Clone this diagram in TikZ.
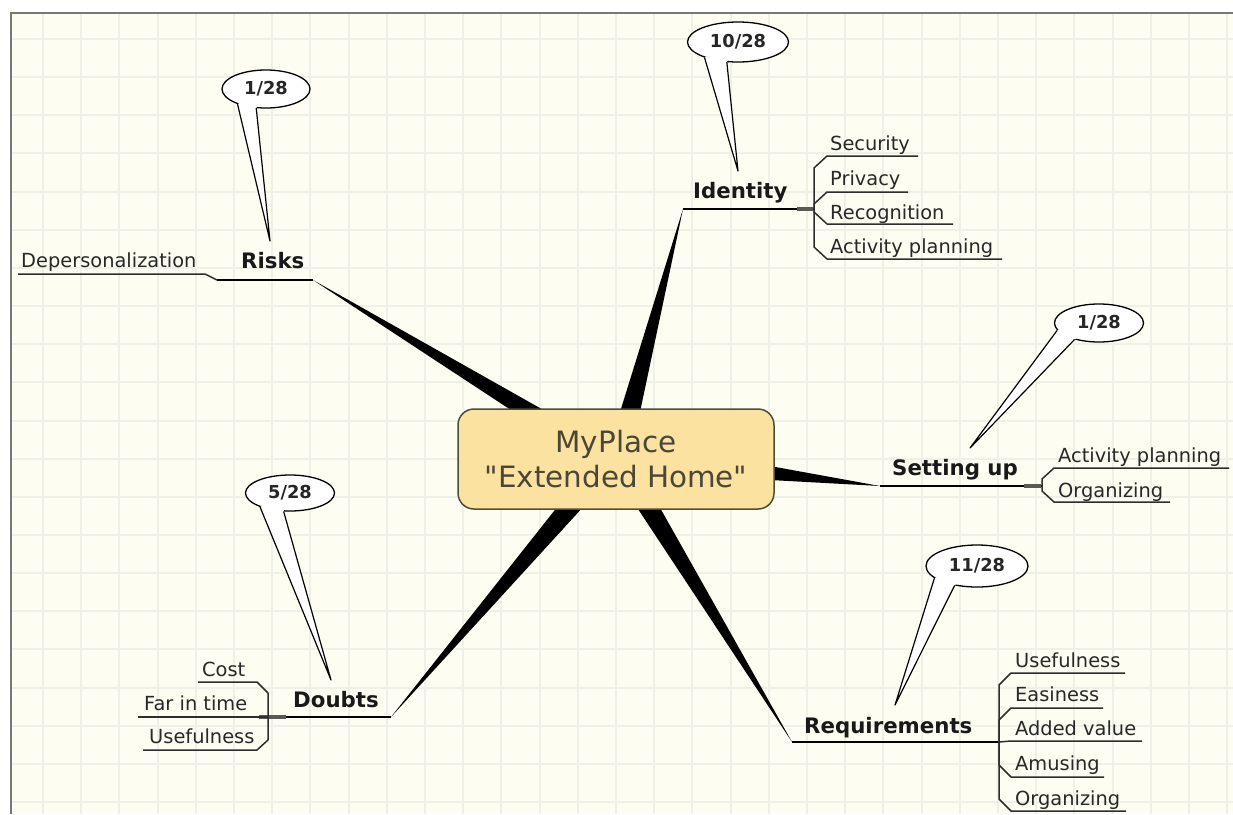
\documentclass[tikz,border=0pt]{standalone}
\usepackage{fontspec}
\setmainfont{DejaVu Sans}[Ligatures=TeXOff]
\usetikzlibrary{shapes.geometric,calc}
\definecolor{paper}{RGB}{253,253,242}
\definecolor{gridc}{RGB}{237,241,232}
\definecolor{framec}{RGB}{120,120,115}
\definecolor{hubfill}{RGB}{252,226,160}
\definecolor{hubline}{RGB}{80,76,60}
\definecolor{hubtext}{RGB}{74,70,56}
\definecolor{subtext}{RGB}{40,40,40}
\definecolor{subline}{RGB}{45,45,45}
\definecolor{stubc}{RGB}{90,90,85}

% speech-bubble tail from a callout ellipse to a point
\newcommand\calltail[4]{%
  \fill[white] ($(#1.#2)!2.5pt!(#1.center)$) -- (#1.#2) -- (#4) -- (#1.#3)
     -- ($(#1.#3)!2.5pt!(#1.center)$) -- cycle;
  \draw[tail] (#1.#2) -- (#4) -- (#1.#3);}

\begin{document}
\begin{tikzpicture}[x=1pt,y=-1pt,
  subtopic/.style={anchor=base west, inner sep=0pt, text=subtext,
    font=\fontsize{19.4}{22}\selectfont},
  topic/.style={anchor=base west, inner sep=0pt, text=black!90,
    font=\bfseries\fontsize{21.3}{24}\selectfont},
  bubble/.style={ellipse, draw=black, line width=1.3pt, fill=white, inner sep=0pt,
    text=black!85, font=\bfseries\fontsize{17.8}{20}\selectfont},
  tail/.style={draw=black, line width=1.2pt, line join=round},
  wedge/.style={fill=black},
  topicline/.style={draw=black, line width=2pt},
  subline/.style={draw=subline, line width=1.5pt, line join=round},
  stub/.style={draw=stubc, line width=3.5pt},
]
\useasboundingbox (0,0) rectangle (1233,814);

% paper and grid
\fill[white] (0,0) rectangle (1233,814);
\fill[paper] (11,13) rectangle (1233,814);
\begin{scope}
  \clip (11,13) rectangle (1233,814);
  \foreach \k in {0,...,31}
    \draw[gridc, line width=2pt] ({43+38.2*\k},13) -- ({43+38.2*\k},814);
  \foreach \k in {0,...,20}
    \draw[gridc, line width=2pt] (11,{39+38.15*\k}) -- (1233,{39+38.15*\k});
\end{scope}
\draw[framec, line width=1.6pt] (11,814) -- (11,13) -- (1233,13);

% branch ends and junctions
\coordinate (riskTip) at (313,280);
\coordinate (riskJ) at (217,280);
\coordinate (idTip) at (683,209);
\coordinate (idJ) at (814,209);
\coordinate (setTip) at (880,486);
\coordinate (setJ) at (1042,486);
\coordinate (reqTip) at (792,742);
\coordinate (reqJ) at (999,742);
\coordinate (dbtTip) at (391,717);
\coordinate (dbtJ) at (268,717);

% tapered branches from the central topic
\fill[wedge] (riskTip) -- (514,412) -- (547,412) -- cycle;
\fill[wedge] (idTip) -- (620,412) -- (640,412) -- cycle;
\fill[wedge] (setTip) -- (770,466) -- (770,480) -- cycle;
\fill[wedge] (reqTip) -- (636,506) -- (659,506) -- cycle;
\fill[wedge] (dbtTip) -- (558,506) -- (584,506) -- cycle;

% central topic
\node[draw=hubline, line width=1.5pt, fill=hubfill, rounded corners=16pt,
      minimum width=316pt, minimum height=100pt, align=center, text=hubtext,
      font=\fontsize{29.4}{35}\selectfont] (hub) at (616,459)
      {MyPlace\\"Extended Home"};

% main topic underlines
\draw[topicline] (riskJ) -- (riskTip);
\draw[topicline] (idTip) -- (idJ);
\draw[topicline] (setTip) -- (setJ);
\draw[topicline] (reqTip) -- (reqJ);
\draw[topicline] (dbtJ) -- (dbtTip);
\draw[stub] (797,209) -- (813,209);
\draw[stub] (1024,486) -- (1041,486);
\draw[stub] (259,717) -- (286,717);

% main topics
\node[topic] (risks) at (241,268) {Risks};
\node[topic] (identity) at (693,198) {Identity};
\node[topic] (settingup) at (892,475) {Setting up};
\node[topic] (requirements) at (804,733) {Requirements};
\node[topic] (doubts) at (293,707) {Doubts};

% subtopics: Risks
\draw[subline] (riskJ) -- (205,274) -- (18,274);
\node[subtopic] (deperson) at (21,267) {Depersonalization};

% subtopics: Identity
\draw[subline] (idJ) -- (814,168) -- (827,156) -- (918,156);
\draw[subline] (idJ) -- (814,204) -- (827,192) -- (908,192);
\draw[subline] (idJ) -- (814,212) -- (827,224) -- (953,224);
\draw[subline] (idJ) -- (814,247) -- (827,259) -- (1002,259);
\node[subtopic] (security) at (830,150) {Security};
\node[subtopic] (privacy) at (830,185) {Privacy};
\node[subtopic] (recognition) at (830,219) {Recognition};
\node[subtopic] (idplanning) at (830,253) {Activity planning};

% subtopics: Setting up
\draw[subline] (setJ) -- (1042,479) -- (1054,468) -- (1229,468);
\draw[subline] (setJ) -- (1042,491) -- (1054,502) -- (1170,502);
\node[subtopic] (setplanning) at (1058,462) {Activity planning};
\node[subtopic] (setorganizing) at (1058,497) {Organizing};

% subtopics: Requirements
\draw[subline] (reqJ) -- (999,685) -- (1011,673) -- (1125,673);
\draw[subline] (reqJ) -- (999,720) -- (1011,708) -- (1103,708);
\draw[subline] (reqJ) -- (1011,741) -- (1142,741);
\draw[subline] (reqJ) -- (999,765) -- (1011,777) -- (1104,777);
\draw[subline] (reqJ) -- (999,799) -- (1011,811) -- (1126,811);
\node[subtopic] (requseful) at (1015,667) {Usefulness};
\node[subtopic] (reqeasy) at (1015,701) {Easiness};
\node[subtopic] (reqadded) at (1015,735) {Added value};
\node[subtopic] (reqamusing) at (1015,770) {Amusing};
\node[subtopic] (reqorganizing) at (1015,805) {Organizing};

% subtopics: Doubts
\draw[subline] (dbtJ) -- (268,693) -- (257,682) -- (198,682);
\draw[subline] (dbtJ) -- (138,717);
\draw[subline] (dbtJ) -- (268,740) -- (257,750) -- (143,750);
\node[subtopic] (cost) at (202,676) {Cost};
\node[subtopic] (farintime) at (144,710) {Far in time};
\node[subtopic] (dbtuseful) at (149,743) {Usefulness};

% vote callouts
\node[bubble, minimum width=88pt, minimum height=38pt] (cRisks) at (266,89) {1/28};
\calltail{cRisks}{208}{243}{270,241}
\node[bubble, minimum width=101pt, minimum height=40pt] (cIdentity) at (738,42) {10/28};
\calltail{cIdentity}{205}{241}{738,171}
\node[bubble, minimum width=89pt, minimum height=38pt] (cSetting) at (1099,323) {1/28};
\calltail{cSetting}{190}{214}{970,448}
\node[bubble, minimum width=89pt, minimum height=36pt] (cDoubts) at (290,493) {5/28};
\calltail{cDoubts}{205}{251}{331,680}
\node[bubble, minimum width=102pt, minimum height=42pt] (cReq) at (977,566) {11/28};
\calltail{cReq}{196}{221}{895,705}
\end{tikzpicture}
\end{document}
